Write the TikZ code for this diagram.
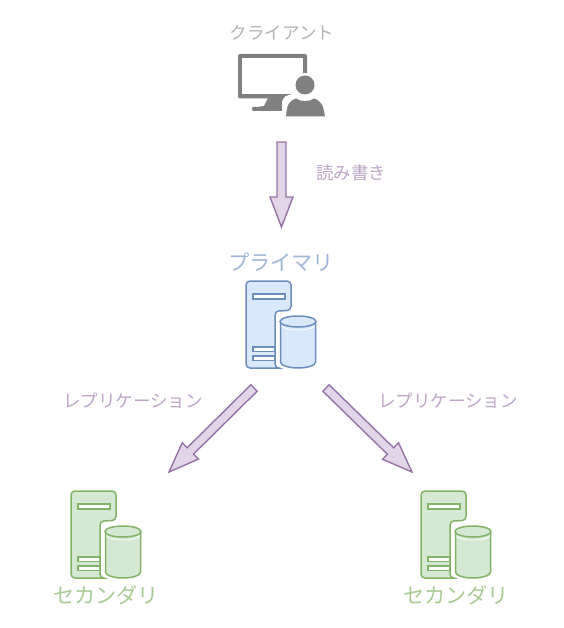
\documentclass[tikz,border=0pt]{standalone}
\usepackage{fontspec}
\newfontfamily\jpfont{Noto Sans CJK JP}
\usetikzlibrary{calc}
\definecolor{flowfill}{HTML}{E1D5E7}
\definecolor{flowline}{HTML}{9673A6}
\definecolor{primfill}{HTML}{DAE8FC}
\definecolor{primline}{HTML}{6C8EBF}
\definecolor{secfill}{HTML}{D5E8D4}
\definecolor{secline}{HTML}{82B366}
\definecolor{clientgray}{HTML}{808080}
\tikzset{
  flowarrow/.style={draw=flowline, fill=flowfill, line width=1.4pt, line join=miter},
  flowlabel/.style={font=\jpfont\fontsize{17.5}{20}\selectfont, text=flowline!65},
  clientlabel/.style={font=\jpfont\fontsize{17.5}{20}\selectfont, text=gray!60},
  primlabel/.style={font=\jpfont\fontsize{21.2}{24}\selectfont, text=primline!65},
  seclabel/.style={font=\jpfont\fontsize{21.2}{24}\selectfont, text=secline!70},
  primserver/.style={draw=primline, fill=primfill, line width=1.5pt},
  secserver/.style={draw=secline, fill=secfill, line width=1.5pt},
  % --- server with its cylinder, origin at the top left corner ---
  dbserver/.pic={
    \path[pic actions, rounded corners=4pt] (0,0) -- (45,0) -- (45,29.5) -- (29,30) -- (29,87) -- (35,87) -- (0,87) -- cycle;
    \path[pic actions, fill=white] (7,13) rectangle (39,18);
    \path[pic actions, fill=white] (7,66) rectangle (29,70.5);
    \path[pic actions, fill=white] (7,75) rectangle (29,79.5);
    \path[draw=white, line width=3pt, fill=white] (34,41) -- (34,81) arc[start angle=180, end angle=360, x radius=18, y radius=-6] -- (70,41) arc[start angle=0, end angle=180, x radius=18, y radius=-6] -- cycle;
    \path[pic actions] (34.5,41) -- (34.5,81) arc[start angle=180, end angle=360, x radius=17.5, y radius=-6] -- (69.5,41);
    \path[pic actions] (52,40.5) ellipse[x radius=18, y radius=5.5];
    \path[draw=white, line width=0.8pt] (35.5,44.5) arc[start angle=180, end angle=360, x radius=16.5, y radius=-4.5];
  },
}
\newcommand{\blockarrow}[2]{
  \coordinate (headbase) at ($(#2)!30pt!(#1)$);
  \draw[flowarrow] ($(#1)!4.5pt!90:(#2)$) -- ($(headbase)!4.5pt!90:(#2)$) -- ($(headbase)!11.5pt!90:(#2)$) -- (#2)
    -- ($(headbase)!11.5pt!-90:(#2)$) -- ($(headbase)!4.5pt!-90:(#2)$) -- ($(#1)!4.5pt!-90:(#2)$) -- cycle;
}
\begin{document}
\begin{tikzpicture}[x=1pt, y=-1pt]
  \useasboundingbox (0,0) rectangle (563,628);

  % Client
  \node (clientname) at (282,33) [clientlabel] {クライアント};
  \fill[clientgray, rounded corners=2pt] (238,54) rectangle (307,98.5);
  \fill[white] (242,58) rectangle (303,94.5);
  \fill[clientgray] (268,98) -- (285,98) -- (285,108) -- (252,108) -- (264,106) -- cycle;
  \fill[clientgray, rounded corners=1pt] (252,107) rectangle (287,111);
  \fill[white] (305,85) circle (12);
  \fill[white, rounded corners=6pt] (282,122) -- (282,97) -- (296,93) -- (315,93) -- (328,97) -- (328,122) -- cycle;
  \fill[clientgray] (305,85) circle (9.5);
  \fill[clientgray] (286,116.5) .. controls (287,104) and (289,101) .. (296,98.5) .. controls (301,102) and (309,102) .. (314,98.5) .. controls (321,101) and (323,104) .. (325,116.5) -- cycle;

  % Primary
  \node (primname) at (281,262) [primlabel] {プライマリ};
  \pic[primserver] at (246,281) {dbserver};

  % Secondaries
  \pic[secserver] at (71,491) {dbserver};
  \pic[secserver] at (421,491) {dbserver};
  \node (secleftname) at (106,595) [seclabel] {セカンダリ};
  \node (secrightname) at (456,595) [seclabel] {セカンダリ};

  % Arrow ends
  \coordinate (readtail) at (281.5,142);
  \coordinate (readtip) at (281.5,227);
  \coordinate (repltailL) at (254,388);
  \coordinate (repltipL) at (169,472);
  \coordinate (repltailR) at (326,388);
  \coordinate (repltipR) at (412,472);

  % Block arrows
  \blockarrow{readtail}{readtip}
  \blockarrow{repltailL}{repltipL}
  \blockarrow{repltailR}{repltipR}

  % Arrow labels
  \node (readlabel) at (351,173) [flowlabel] {読み書き};
  \node (replabelL) at (133,401) [flowlabel] {レプリケーション};
  \node (replabelR) at (448,401) [flowlabel] {レプリケーション};
\end{tikzpicture}
\end{document}
